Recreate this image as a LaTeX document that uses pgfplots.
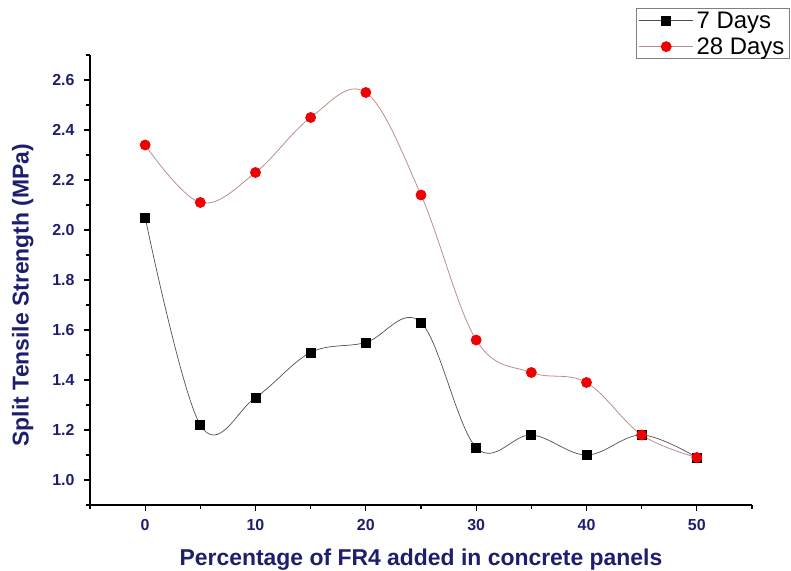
\documentclass[border=0pt]{standalone}
\usepackage{pgfplots}
\pgfplotsset{compat=1.18}
\usepackage{fontspec}
\setmainfont{Liberation Sans}
\definecolor{navy}{RGB}{30,30,110}
\definecolor{rose}{RGB}{190,140,140}
\definecolor{lgray}{RGB}{80,80,80}
\definecolor{mred}{RGB}{240,0,0}
\begin{document}
\begin{tikzpicture}
\path[use as bounding box] (-90bp,-66bp) rectangle (701bp,505bp);
\begin{axis}[
  scale only axis, width=662bp, height=450bp,
  xmin=-5, xmax=55, ymin=0.9, ymax=2.7,
  axis x line*=bottom, axis y line*=left,
  axis line style={line width=1.5bp, black},
  xtick={0,10,20,30,40,50},
  minor xtick={-5,5,15,25,35,45,55},
  ytick={1.0,1.2,1.4,1.6,1.8,2.0,2.2,2.4,2.6},
  minor ytick={0.9,1.1,1.3,1.5,1.7,1.9,2.1,2.3,2.5,2.7},
  tick align=outside, major tick length=6bp, minor tick length=4bp,
  every tick/.style={black, line width=1.2bp},
  /pgf/number format/assume math mode=true,
  ticklabel style={font=\bfseries\fontsize{16}{16}\selectfont, text=navy},
  y tick label style={xshift=-6bp, /pgf/number format/.cd, fixed, fixed zerofill, precision=1},
  x tick label style={yshift=-5bp},
  xlabel={Percentage of FR4 added in concrete panels},
  ylabel={Split Tensile Strength (MPa)},
  label style={font=\bfseries\fontsize{23}{23}\selectfont, text=navy},
  xlabel style={yshift=-11bp},
  ylabel style={yshift=12bp, xshift=-15bp},
  legend style={at={(1.057,1.104)}, anchor=north east, draw=gray, line width=0.8bp,
    font=\fontsize{24}{28}\selectfont, inner sep=2bp, row sep=6bp,
    nodes={inner xsep=3bp, inner ysep=1bp}, cells={anchor=west}},
  legend image code/.code={\draw[mark repeat=2,mark phase=2,#1] plot coordinates {(0bp,0bp) (27bp,0bp) (54bp,0bp)};},
]
\addplot[smooth, tension=0.6, lgray, line width=0.7bp, mark=square*, mark size=4.5bp,
  mark options={black, fill=black, solid}] coordinates {
  (0,2.05) (5,1.22) (10,1.33) (15,1.51) (20,1.55) (25,1.63)
  (30,1.13) (35,1.18) (40,1.10) (45,1.18) (50,1.09)};
\addlegendentry{7 Days}
\addplot[smooth, tension=0.6, rose, line width=0.8bp, mark=*, mark size=5bp,
  mark options={mred, fill=mred, solid}] coordinates {
  (0,2.34) (5,2.11) (10,2.23) (15,2.45) (20,2.55) (25,2.14)
  (30,1.56) (35,1.43) (40,1.39) (45,1.18) (50,1.09)};
\addlegendentry{28 Days}
\end{axis}
\end{tikzpicture}
\end{document}
